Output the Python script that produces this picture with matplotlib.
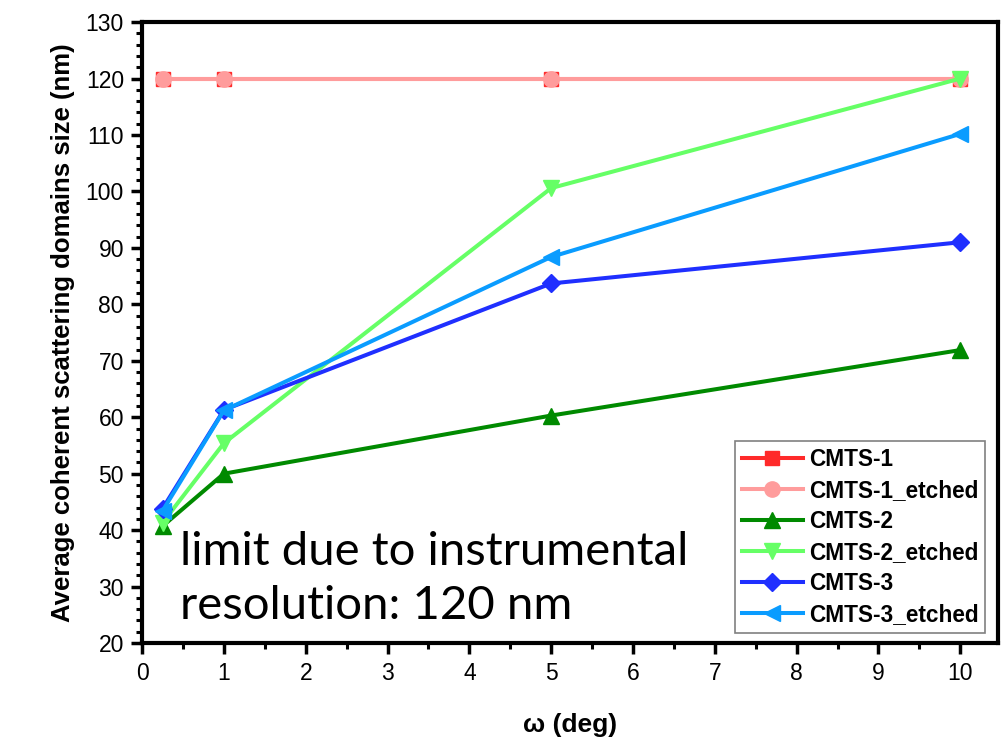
import matplotlib
matplotlib.use("Agg")
import matplotlib.pyplot as plt
from matplotlib.ticker import MultipleLocator

omega = [0.25, 1, 5, 10]
cmts1 = [120, 120, 120, 120]
cmts1_etched = [120, 120, 120, 120]
cmts2 = [40.7, 50.0, 60.3, 71.9]
cmts2_etched = [41.3, 55.4, 100.6, 120.0]
cmts3 = [43.8, 61.3, 83.7, 91.0]
cmts3_etched = [43.4, 61.2, 88.4, 110.2]

series = [
    ("CMTS-1", cmts1, "#ff2a2a", "s", 9.5),
    ("CMTS-1_etched", cmts1_etched, "#ff9c9c", "o", 11),
    ("CMTS-2", cmts2, "#008a00", "^", 11),
    ("CMTS-2_etched", cmts2_etched, "#66ff66", "v", 11),
    ("CMTS-3", cmts3, "#1f2fff", "D", 9),
    ("CMTS-3_etched", cmts3_etched, "#0a9cff", "<", 11),
]

plt.rcParams['font.family'] = ['Liberation Sans', 'DejaVu Sans']

fig = plt.figure(figsize=(10.06, 7.37), dpi=100)
ax = fig.add_axes([0.1412, 0.1275, 0.8508, 0.8425])

for name, vals, col, mk, ms in series:
    ax.plot(omega, vals, color=col, lw=2.9, marker=mk, ms=ms,
            markeredgecolor=col, label=name)

ax.set_xlim(0, 10.46)
ax.set_ylim(20, 130)
ax.xaxis.set_major_locator(MultipleLocator(1))
ax.xaxis.set_minor_locator(MultipleLocator(0.5))
ax.yaxis.set_major_locator(MultipleLocator(10))
ax.yaxis.set_minor_locator(MultipleLocator(2))
ax.tick_params(which='major', direction='out', length=8, width=2.5,
               labelsize=16.5, pad=6)
ax.tick_params(axis='y', which='major', pad=5)
ax.tick_params(which='minor', direction='out', length=4, width=2.2)
for sp in ax.spines.values():
    sp.set_linewidth(3)

ax.set_xlabel("ω (deg)", fontsize=19, fontweight='bold', labelpad=20)
ax.set_ylabel("Average coherent scattering domains size (nm)", fontsize=18.5,
              fontweight='bold', labelpad=8)

leg = ax.legend(loc='lower right', bbox_to_anchor=(0.985, 0.016),
                borderaxespad=0, fancybox=False, framealpha=1,
                edgecolor='#808080', handlelength=2.7, handletextpad=0.25,
                labelspacing=0.36, borderpad=0.3,
                prop={'weight': 'bold', 'size': 16.3})
leg.get_frame().set_linewidth(1.2)

ax.text(0.044, 0.126, "limit due to instrumental", transform=ax.transAxes,
        fontsize=34, family=['Lato', 'DejaVu Sans'], va='baseline', ha='left')
ax.text(0.044, 0.039, "resolution: 120 nm", transform=ax.transAxes,
        fontsize=34, family=['Lato', 'DejaVu Sans'], va='baseline', ha='left')

fig.savefig("out.png", dpi=100)
